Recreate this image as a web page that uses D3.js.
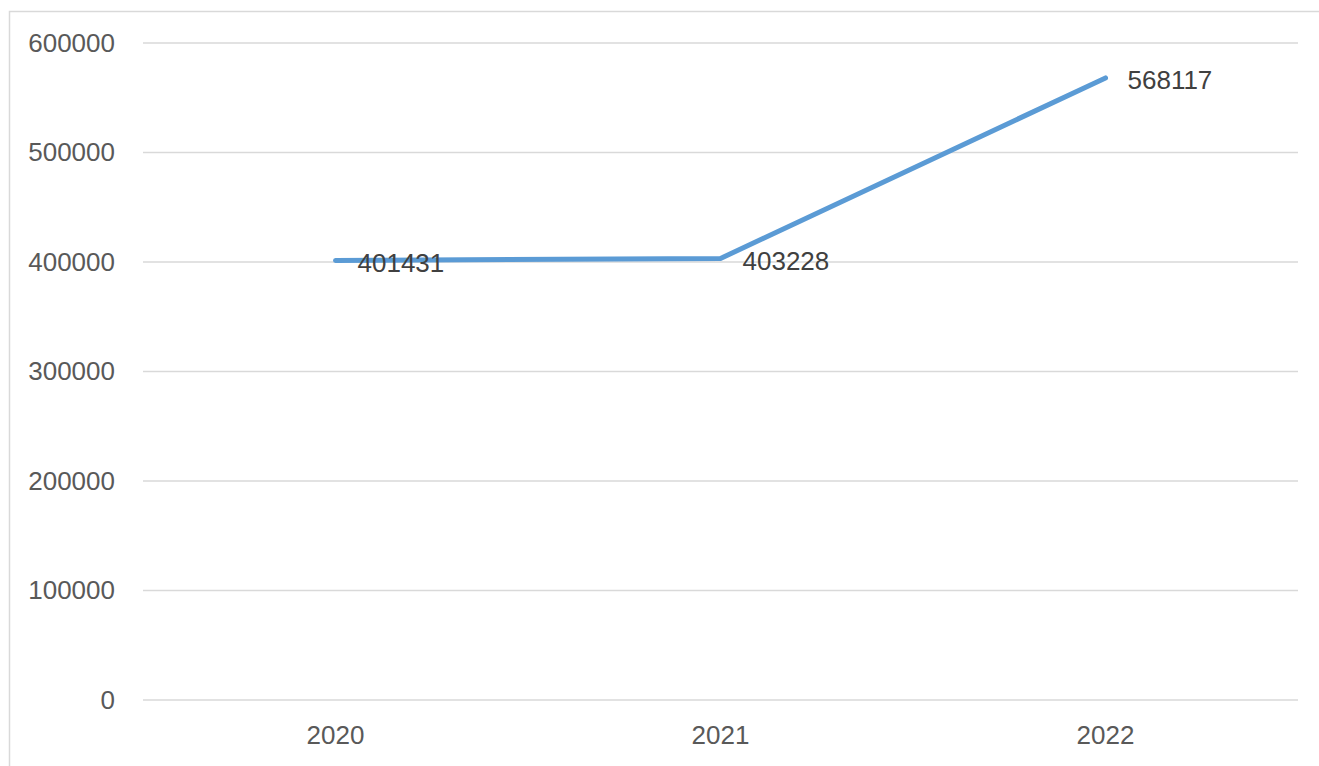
<!DOCTYPE html>
<html>
<head>
<meta charset="utf-8">
<script src="https://cdn.jsdelivr.net/npm/d3@7"></script>
<style>
  body { margin: 0; background: #fff; }
  svg { display: block; }
</style>
</head>
<body>
<svg id="chart"></svg>
<script>
// chart data
const years = ['2020', '2021', '2022'];
const values = [401431, 403228, 568117];
const yTicks = [0, 100000, 200000, 300000, 400000, 500000, 600000];

const W = 1319, H = 766;
const margin = { top: 43, right: 21, bottom: 66, left: 143 };
const width = W - margin.left - margin.right;
const height = H - margin.top - margin.bottom;
const font = '"Liberation Sans", Arial, sans-serif';

const root = d3.select('#chart').attr('width', W).attr('height', H);

// outer chart border
root.append('rect')
  .attr('x', 9.5).attr('y', 11.5)
  .attr('width', W).attr('height', H)
  .attr('fill', 'none')
  .attr('stroke', '#d9d9d9')
  .attr('stroke-width', 1.5);

const svg = root.append('g')
  .attr('transform', `translate(${margin.left},${margin.top})`);

const x = d3.scaleBand().domain(years).range([0, width]);
const y = d3.scaleLinear().domain([0, 600000]).range([height, 0]);

// gridlines
svg.append('g')
  .selectAll('line')
  .data(yTicks)
  .enter()
  .append('line')
  .attr('x1', 0).attr('x2', width)
  .attr('y1', d => y(d)).attr('y2', d => y(d))
  .attr('stroke', '#d9d9d9')
  .attr('stroke-width', 1.5);

// y axis labels
const yAxis = svg.append('g')
  .call(d3.axisLeft(y).tickValues(yTicks).tickSize(0).tickPadding(28).tickFormat(d3.format('d')));
yAxis.select('.domain').remove();
yAxis.selectAll('text')
  .attr('fill', '#595959')
  .style('font-family', font)
  .style('font-size', '26px');

// x axis labels
const xAxis = svg.append('g')
  .attr('transform', `translate(0,${height})`)
  .call(d3.axisBottom(x).tickSize(0).tickPadding(26));
xAxis.select('.domain').remove();
xAxis.selectAll('text')
  .attr('fill', '#595959')
  .style('font-family', font)
  .style('font-size', '26px');

// the line
const line = d3.line()
  .x((d, i) => x(years[i]) + x.bandwidth() / 2)
  .y(d => y(d));

svg.append('path')
  .datum(values)
  .attr('d', line)
  .attr('fill', 'none')
  .attr('stroke', '#5b9bd5')
  .attr('stroke-width', 5)
  .attr('stroke-linecap', 'round')
  .attr('stroke-linejoin', 'round');

// data labels (right of point)
svg.selectAll('text.lbl')
  .data(values)
  .enter()
  .append('text')
  .attr('class', 'lbl')
  .attr('x', (d, i) => x(years[i]) + x.bandwidth() / 2 + 22)
  .attr('y', d => y(d))
  .attr('dy', '0.44em')
  .attr('fill', '#404040')
  .style('font-family', font)
  .style('font-size', '26px')
  .text(d => d);
</script>
</body>
</html>
